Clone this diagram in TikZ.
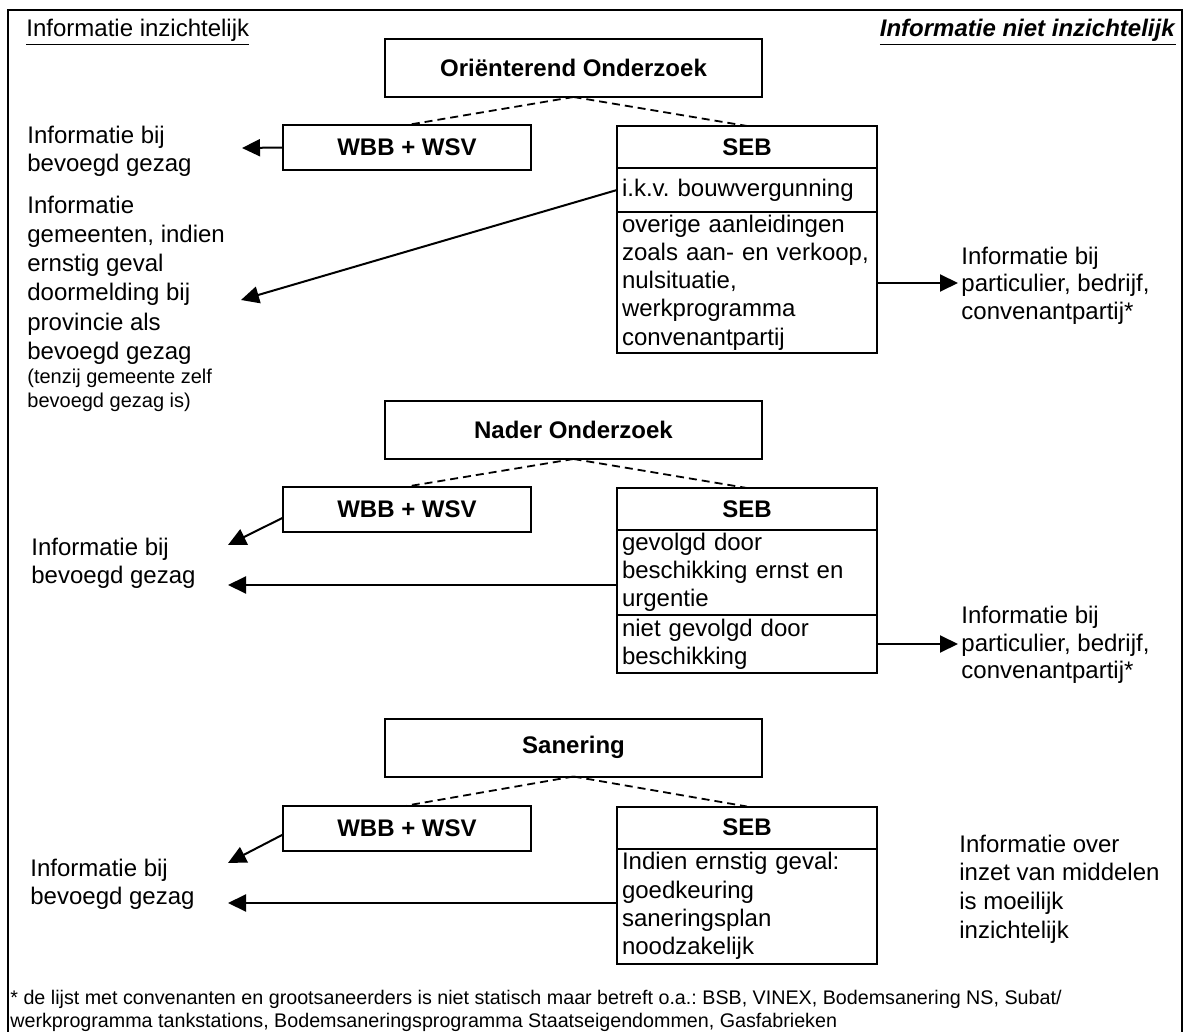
\documentclass[tikz,border=0pt]{standalone}
\usepackage{fontspec}
\setmainfont{Liberation Sans}
\usetikzlibrary{positioning,arrows.meta}
\tikzset{StageBox/.style={%
    shape=rectangle,%
    draw=black,%
    line width=1pt,%
    minimum width=188.5pt,%
    minimum height=29pt,%
    inner sep=0pt,%
    outer sep=0pt,%
    font=\fontsize{12}{13.8}\selectfont\bfseries,%
}}
\tikzset{LawBox/.style={%
    shape=rectangle,%
    draw=black,%
    line width=1pt,%
    minimum width=124pt,%
    minimum height=22.5pt,%
    inner sep=0pt,%
    outer sep=0pt,%
    font=\fontsize{12}{13.8}\selectfont\bfseries,%
}}
\tikzset{SebHead/.style={%
    LawBox,%
    minimum width=130pt,%
    minimum height=21pt,%
}}
\tikzset{SebRow/.style={%
    shape=rectangle,%
    draw=black,%
    line width=1pt,%
    text width=125pt,%
    inner xsep=2.5pt,%
    inner ysep=0pt,%
    outer sep=0pt,%
    align=left,%
    font=\fontsize{12}{14.1}\selectfont\frenchspacing,%
}}
\tikzset{InfoText/.style={%
    anchor=west,%
    inner sep=0pt,%
    align=left,%
    font=\fontsize{12}{13.8}\selectfont,%
}}
\tikzset{DashEdge/.style={%
    dash pattern=on 4pt off 2.5pt,%
    line width=0.9pt,%
}}
\tikzset{InfoArrow/.style={%
    -{Triangle[length=9pt,width=8.5pt]},%
    line width=1pt,%
}}
\NewDocumentCommand{\headLabel}{s m}{%
    \IfBooleanTF{#1}{%
        \underline{\textbf{\textit{#2}}}%
    }{%
        \underline{#2}%
    }%
}

\begin{document}
\begin{tikzpicture}[x=0.5pt, y=-0.5pt]
    \useasboundingbox (0,0) rectangle (1184,1032);
    \draw[line width=1.2pt] (8,1032) -- (8,10) -- (1182,10) -- (1182,1032);

    \node[InfoText, anchor=base west] (hleft) at (26,37) {\headLabel{Informatie inzichtelijk}};
    \node[InfoText, anchor=base east] (hright) at (1176,37) {\headLabel*{Informatie niet inzichtelijk}};

    % Orienterend onderzoek
    \node[StageBox] (oo) at (573.5,68) {Oriënterend Onderzoek};
    \node[LawBox] (wbb1) at (407,147.5) {WBB + WSV};
    \node[SebHead] (seb1) at (747,147) {SEB};
    \node[SebRow, minimum height=22pt, below=0pt of seb1] (ikv) {i.k.v. bouwvergunning};
    \node[SebRow, minimum height=70.5pt, below=0pt of ikv] (overig) {overige aanleidingen\\zoals aan- en verkoop,\\nulsituatie,\\werkprogramma\\convenantpartij};

    \node[InfoText] (bg1) at (27,151) {Informatie bij\\bevoegd gezag};
    \node[InfoText, font=\fontsize{12}{14.6}\selectfont] (gem) at (27,280) {Informatie\\gemeenten, indien\\ernstig geval\\doormelding bij\\provincie als\\bevoegd gezag};
    \node[InfoText, font=\fontsize{10}{12}\selectfont] (gemnote) at (27,390) {(tenzij gemeente zelf\\bevoegd gezag is)};
    \node[InfoText] (part1) at (961,285.5) {Informatie bij\\particulier, bedrijf,\\convenantpartij*};

    \coordinate (t1) at (242,148);
    \coordinate (t2) at (241,300);
    \coordinate (t3) at (958,283);

    \draw[DashEdge] (oo.south) -- (wbb1.north);
    \draw[DashEdge] (oo.south) -- (seb1.north);
    \draw[InfoArrow] (wbb1.west) -- (t1);
    \draw[InfoArrow] (ikv.west) -- (t2);
    \draw[InfoArrow] (overig.east |- t3) -- (t3);

    % Nader onderzoek
    \node[StageBox] (no) at (573.5,430) {Nader Onderzoek};
    \node[LawBox] (wbb2) at (407,509) {WBB + WSV};
    \node[SebHead] (seb2) at (747,509) {SEB};
    \node[SebRow, minimum height=42.5pt, below=0pt of seb2] (gevolgd) {gevolgd door\\beschikking ernst en\\urgentie};
    \node[SebRow, minimum height=29pt, below=0pt of gevolgd] (niet) {niet gevolgd door\\beschikking};

    \node[InfoText] (bg2) at (31,563.5) {Informatie bij\\bevoegd gezag};
    \node[InfoText] (part2) at (961,645) {Informatie bij\\particulier, bedrijf,\\convenantpartij*};

    \coordinate (t4) at (228,545);
    \coordinate (t5) at (228,585);
    \coordinate (t6) at (958,644);

    \draw[DashEdge] (no.south) -- (wbb2.north);
    \draw[DashEdge] (no.south) -- (seb2.north);
    \draw[InfoArrow] (wbb2.184) -- (t4);
    \draw[InfoArrow] (gevolgd.west |- t5) -- (t5);
    \draw[InfoArrow] (niet.east |- t6) -- (t6);

    % Sanering
    \node[StageBox] (san) at (573.5,747.5) {Sanering};
    \node[LawBox] (wbb3) at (407,828) {WBB + WSV};
    \node[SebHead] (seb3) at (747,827.5) {SEB};
    \node[SebRow, minimum height=57.5pt, below=0pt of seb3] (ernstig) {Indien ernstig geval:\\goedkeuring\\saneringsplan\\noodzakelijk};

    \node[InfoText] (bg3) at (30,884) {Informatie bij\\bevoegd gezag};
    \node[InfoText, font=\fontsize{12}{14.3}\selectfont] (middelen) at (959,889) {Informatie over\\inzet van middelen\\is moeilijk\\inzichtelijk};

    \coordinate (t7) at (228,863);
    \coordinate (t8) at (228,903);

    \draw[DashEdge] (san.south) -- (wbb3.north);
    \draw[DashEdge] (san.south) -- (seb3.north);
    \draw[InfoArrow] (wbb3.183) -- (t7);
    \draw[InfoArrow] (ernstig.west |- t8) -- (t8);

    \node[InfoText, font=\fontsize{9.85}{11.5}\selectfont\frenchspacing] (voetnoot) at (10,1011) {* de lijst met convenanten en grootsaneerders is niet statisch maar betreft o.a.: BSB, VINEX, Bodemsanering NS, Subat/\\werkprogramma tankstations, Bodemsaneringsprogramma Staatseigendommen, Gasfabrieken};
\end{tikzpicture}
\end{document}
